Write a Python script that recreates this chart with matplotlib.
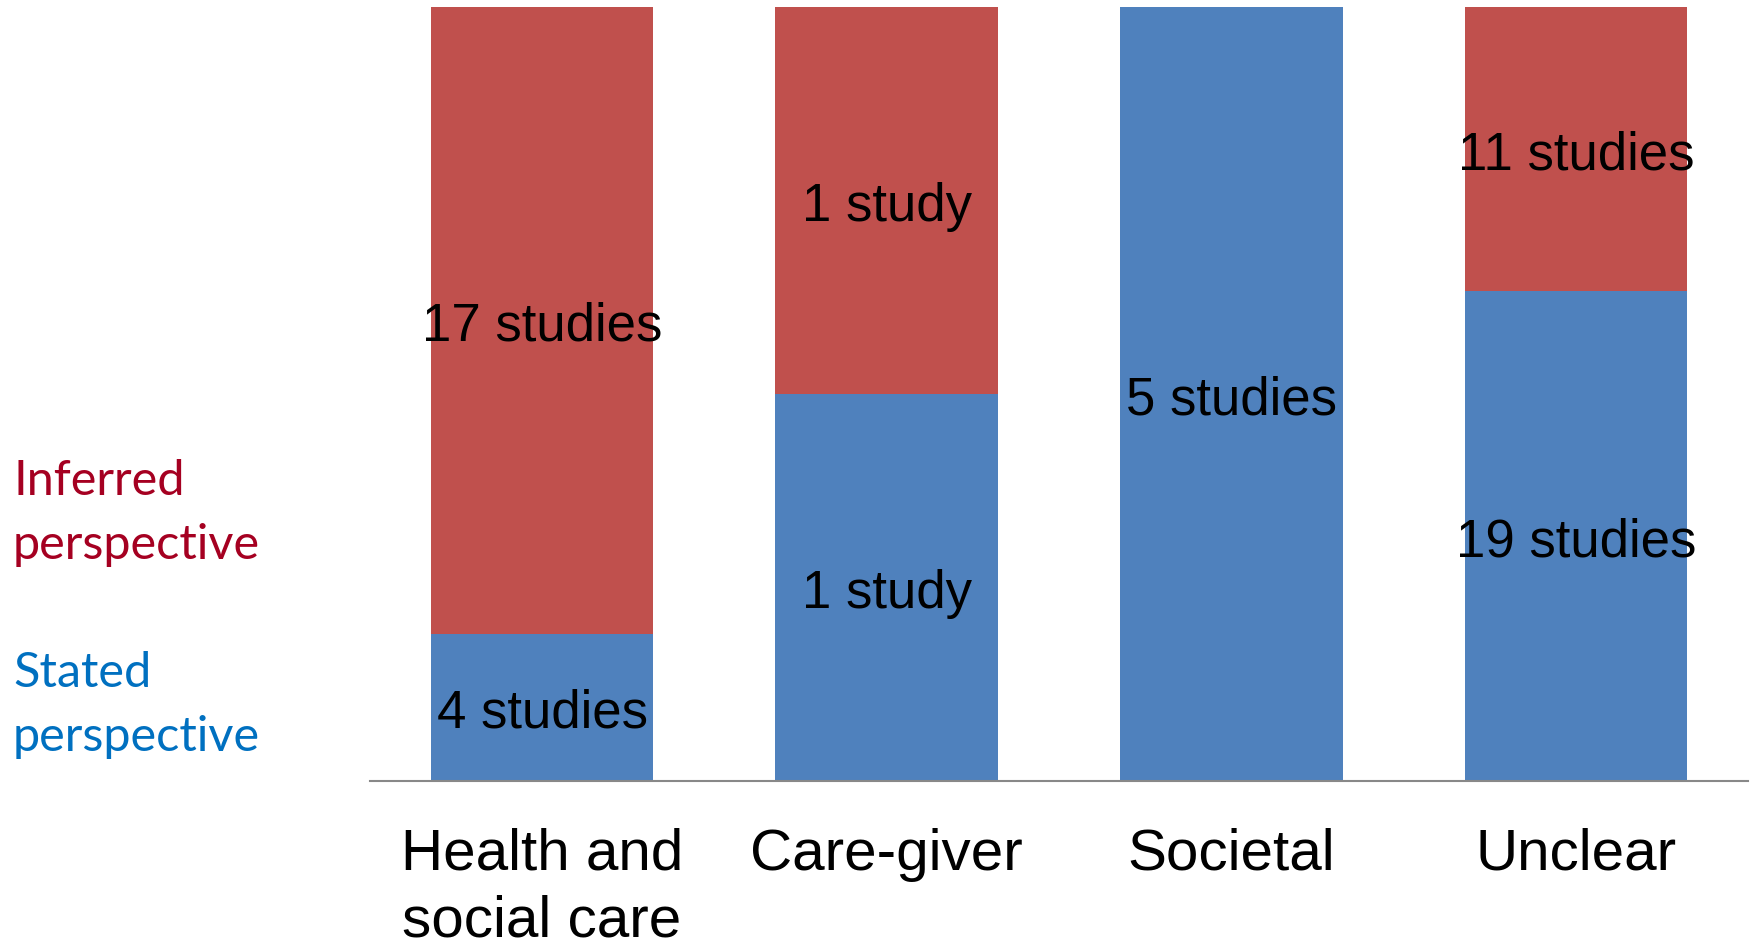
import matplotlib
matplotlib.use("Agg")
import matplotlib.pyplot as plt
import numpy as np

# studies per perspective type, split into stated vs inferred
categories = ['Health and\nsocial care', 'Care-giver', 'Societal', 'Unclear']
stated = [4, 1, 5, 19]
inferred = [17, 1, 0, 11]

BLUE = '#4F81BD'
RED = '#C0504D'

plt.rcParams['font.family'] = ['Liberation Sans', 'DejaVu Sans']

stated_a = np.array(stated, dtype=float)
inferred_a = np.array(inferred, dtype=float)
total = stated_a + inferred_a
stated_pct = stated_a / total * 100
inferred_pct = inferred_a / total * 100

fig = plt.figure(figsize=(17.52, 9.45), dpi=100)
ax = fig.add_axes([0.211, 0.1725, 0.787, 0.819])

x = np.arange(len(categories))
width = 0.646
ax.bar(x, stated_pct, width, color=BLUE)
ax.bar(x, inferred_pct, width, bottom=stated_pct, color=RED)


def label(n):
    return '%d study' % n if n == 1 else '%d studies' % n


for i in range(len(categories)):
    if stated[i] > 0:
        ax.text(x[i], stated_pct[i] / 2, label(stated[i]), ha='center',
                va='center_baseline', fontsize=38, color='black')
    if inferred[i] > 0:
        ax.text(x[i], stated_pct[i] + inferred_pct[i] / 2, label(inferred[i]),
                ha='center', va='center_baseline', fontsize=38, color='black')

ax.set_xlim(-0.5, 3.5)
ax.set_ylim(0, 100)
ax.set_xticks(x)
ax.set_xticklabels(categories, fontsize=42, linespacing=1.3)
ax.tick_params(axis='x', length=0, pad=33)
ax.set_yticks([])
for s in ['top', 'right', 'left']:
    ax.spines[s].set_visible(False)
ax.spines['bottom'].set_color('#888888')
ax.spines['bottom'].set_linewidth(1.5)

# side labels acting as legend
fig.text(13 / 1752, 1 - 513 / 945, 'Inferred\nperspective', color='#A50021',
         fontsize=35, family=['Lato', 'DejaVu Sans'], va='center', ha='left', linespacing=1.57)
fig.text(13 / 1752, 1 - 705 / 945, 'Stated\nperspective', color='#0070C0',
         fontsize=35, family=['Lato', 'DejaVu Sans'], va='center', ha='left', linespacing=1.57)

fig.savefig('out.png', dpi=100)
